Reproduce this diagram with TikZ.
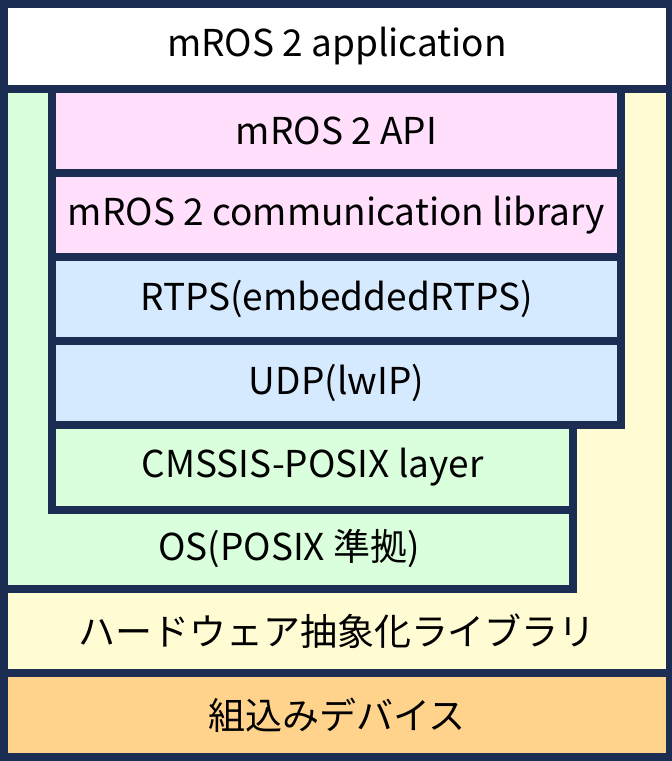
\documentclass[tikz,border=0pt]{standalone}
\usepackage{fontspec}
\setmainfont{Noto Sans CJK JP}
\definecolor{navy}{HTML}{1B2D53}
\definecolor{pinkc}{HTML}{FFDFFC}
\definecolor{bluec}{HTML}{D6EAFF}
\definecolor{greenc}{HTML}{DAFFDC}
\definecolor{yellowc}{HTML}{FFFBD2}
\definecolor{orangec}{HTML}{FFD38B}
\begin{document}
\begin{tikzpicture}[x=1pt,y=-1pt,
  layer/.style={rectangle, inner sep=0pt, text=black, font=\fontsize{37}{42}\selectfont},
  lbl/.style={inner sep=0pt, text=black, font=\fontsize{37}{42}\selectfont}]
\useasboundingbox (0,0) rectangle (672,761);
\fill[navy] (0,0) rectangle (672,761);
% hardware abstraction region
\fill[yellowc] (8,93) rectangle (666,669);
% OS region
\fill[navy] (8,93) rectangle (577,593);
\fill[greenc] (8,93) rectangle (569,585);
% inner column frame
\fill[navy] (48,93) rectangle (625,429);
\fill[navy] (48,429) rectangle (577,514);
% layers
\node[layer, fill=white, minimum width=658pt, minimum height=77pt] (app) at (337,46.5) {mROS 2 application};
\node[layer, fill=pinkc, minimum width=561pt, minimum height=76pt] (api) at (336.5,131) {mROS 2 API};
\node[layer, fill=pinkc, minimum width=561pt, minimum height=76pt] (lib) at (336.5,215) {mROS 2 communication library};
\node[layer, fill=bluec, minimum width=561pt, minimum height=76pt] (rtps) at (336.5,299) {RTPS(embeddedRTPS)};
\node[layer, fill=bluec, minimum width=561pt, minimum height=76pt] (udp) at (336.5,383) {UDP(lwIP)};
\node[layer, fill=greenc, minimum width=513pt, minimum height=77pt] (cmsis) at (312.5,467.5) {CMSSIS-POSIX layer};
\node[lbl] (os) at (289,548) {OS(POSIX 準拠)};
\node[lbl] (hal) at (337,631) {ハードウェア抽象化ライブラリ};
\node[layer, fill=orangec, minimum width=658pt, minimum height=76pt] (dev) at (337,715) {組込みデバイス};
\end{tikzpicture}
\end{document}
